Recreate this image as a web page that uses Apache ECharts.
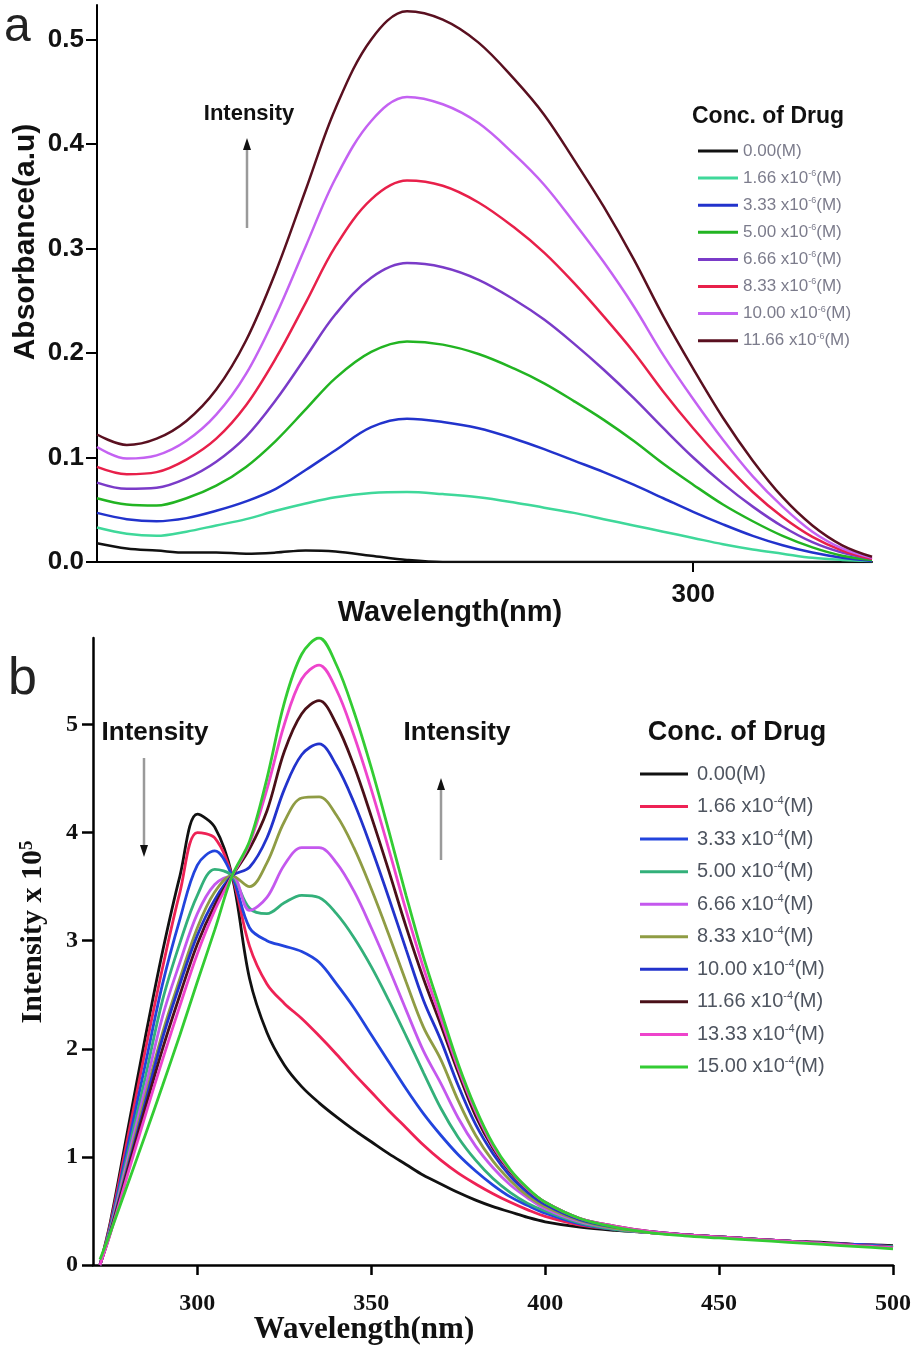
<!DOCTYPE html>
<html>
<head>
<meta charset="utf-8">
<script src="https://cdn.jsdelivr.net/npm/echarts@6/dist/echarts.min.js"></script>
<style>
    html, body { margin: 0; padding: 0; background: #fff; }
    #chart { width: 924px; height: 1350px; }
</style>
</head>
<body>
<div id="chart"></div>
<script>
// ---- panel a : UV absorbance ----
var waveA = [200, 205, 210, 215, 220, 225, 230, 235, 240, 246, 252, 258, 264, 270,
    275, 280, 285, 290, 295, 300, 305, 310, 315, 320, 325, 330];
var concA = ['0.00', '1.66', '3.33', '5.00', '6.66', '8.33', '10.00', '11.66'];
var colorsA = ['#111111', '#3fd89a', '#2233cc', '#22b422', '#7a3bc8', '#e8204a', '#c462f2', '#5a1020'];
var absA0 = [0.018, 0.013, 0.011, 0.009, 0.009, 0.008, 0.009, 0.011, 0.010, 0.006, 0.002, 0, 0, 0,
    0, 0, 0, 0, 0, 0, 0, 0, 0, 0, 0, 0];
var absA1 = [0.033, 0.027, 0.025, 0.029, 0.035, 0.041, 0.049, 0.056, 0.062, 0.066, 0.067, 0.065, 0.062, 0.057,
    0.052, 0.047, 0.041, 0.035, 0.029, 0.023, 0.017, 0.012, 0.008, 0.004, 0.002, 0.001];
var absA2 = [0.047, 0.041, 0.039, 0.042, 0.049, 0.058, 0.070, 0.088, 0.107, 0.129, 0.137, 0.134, 0.128, 0.118,
    0.108, 0.097, 0.086, 0.074, 0.061, 0.048, 0.036, 0.025, 0.016, 0.009, 0.004, 0.001];
var absA3 = [0.061, 0.055, 0.054, 0.061, 0.073, 0.091, 0.116, 0.146, 0.176, 0.201, 0.211, 0.208, 0.199, 0.185,
    0.171, 0.154, 0.136, 0.116, 0.094, 0.074, 0.055, 0.039, 0.025, 0.014, 0.006, 0.002];
var absA4 = [0.076, 0.070, 0.071, 0.080, 0.096, 0.120, 0.155, 0.196, 0.237, 0.272, 0.286, 0.282, 0.270, 0.251,
    0.232, 0.209, 0.184, 0.157, 0.128, 0.100, 0.075, 0.053, 0.034, 0.019, 0.009, 0.003];
var absA5 = [0.091, 0.084, 0.086, 0.098, 0.118, 0.150, 0.195, 0.248, 0.302, 0.347, 0.365, 0.360, 0.344, 0.320,
    0.296, 0.267, 0.235, 0.201, 0.163, 0.128, 0.096, 0.067, 0.043, 0.024, 0.011, 0.003];
var absA6 = [0.110, 0.099, 0.102, 0.116, 0.141, 0.180, 0.236, 0.302, 0.367, 0.422, 0.445, 0.438, 0.420, 0.390,
    0.361, 0.325, 0.287, 0.245, 0.198, 0.156, 0.117, 0.082, 0.053, 0.029, 0.013, 0.004];
var absA7 = [0.122, 0.112, 0.118, 0.135, 0.165, 0.212, 0.278, 0.356, 0.434, 0.500, 0.527, 0.519, 0.497, 0.462,
    0.428, 0.385, 0.340, 0.290, 0.235, 0.185, 0.138, 0.097, 0.062, 0.035, 0.016, 0.005];
var seriesA = [absA0, absA1, absA2, absA3, absA4, absA5, absA6, absA7];
var ticksAY = [0, 0.1, 0.2, 0.3, 0.4, 0.5];
var ticksAX = [300];

// ---- panel b : fluorescence ----
var waveB = [272, 275, 280, 285, 290, 295, 300, 305, 310, 315, 320, 325, 330, 335, 340, 345, 350, 355, 360,
    365, 370, 375, 380, 385, 390, 395, 400, 410, 420, 430, 440, 450, 460, 470, 480, 490, 500];
var concB = ['0.00', '1.66', '3.33', '5.00', '6.66', '8.33', '10.00', '11.66', '13.33', '15.00'];
var colorsB = ['#111111', '#ee2255', '#2244dd', '#33b07a', '#c458ee', '#8f9c44', '#2233cc', '#4a1018', '#ee44cc', '#33cc33'];
var intB0 = [0, 0.4, 1.25, 2.1, 2.9, 3.6, 4.17, 4.05, 3.6, 2.65, 2.15, 1.85, 1.65, 1.5, 1.37, 1.25, 1.14, 1.03, 0.93,
    0.83, 0.75, 0.67, 0.6, 0.54, 0.49, 0.44, 0.4, 0.35, 0.32, 0.3, 0.28, 0.26, 0.24, 0.22, 0.21, 0.19, 0.18];
var intB1 = [0, 0.38, 1.18, 1.98, 2.75, 3.45, 4.0, 3.95, 3.6, 2.95, 2.6, 2.42, 2.28, 2.12, 1.95, 1.77, 1.6, 1.43, 1.27,
    1.11, 0.97, 0.85, 0.75, 0.66, 0.58, 0.51, 0.45, 0.37, 0.33, 0.3, 0.28, 0.26, 0.24, 0.22, 0.2, 0.19, 0.17];
var intB2 = [0, 0.36, 1.1, 1.85, 2.6, 3.2, 3.7, 3.83, 3.6, 3.12, 3.0, 2.95, 2.9, 2.8, 2.6, 2.38, 2.13, 1.88, 1.63,
    1.4, 1.2, 1.02, 0.87, 0.74, 0.63, 0.55, 0.48, 0.38, 0.33, 0.3, 0.28, 0.26, 0.24, 0.22, 0.2, 0.19, 0.17];
var intB3 = [0, 0.34, 1.03, 1.73, 2.45, 2.98, 3.42, 3.66, 3.6, 3.3, 3.25, 3.35, 3.42, 3.4, 3.25, 3.03, 2.76, 2.45, 2.12,
    1.78, 1.45, 1.18, 0.97, 0.8, 0.67, 0.57, 0.5, 0.39, 0.33, 0.3, 0.28, 0.26, 0.24, 0.22, 0.2, 0.18, 0.17];
var intB4 = [0, 0.33, 0.98, 1.63, 2.3, 2.8, 3.25, 3.52, 3.6, 3.28, 3.4, 3.7, 3.86, 3.86, 3.72, 3.46, 3.12, 2.75, 2.36,
    1.98, 1.68, 1.36, 1.1, 0.9, 0.74, 0.62, 0.52, 0.4, 0.34, 0.3, 0.28, 0.26, 0.24, 0.22, 0.2, 0.18, 0.16];
var intB5 = [0, 0.32, 0.93, 1.55, 2.15, 2.65, 3.12, 3.45, 3.6, 3.5, 3.72, 4.1, 4.32, 4.33, 4.16, 3.86, 3.48, 3.06, 2.62,
    2.2, 1.9, 1.52, 1.2, 0.96, 0.78, 0.64, 0.54, 0.41, 0.34, 0.3, 0.28, 0.26, 0.24, 0.22, 0.2, 0.18, 0.16];
var intB6 = [0, 0.31, 0.9, 1.5, 2.1, 2.6, 3.05, 3.38, 3.6, 3.68, 3.95, 4.4, 4.72, 4.82, 4.62, 4.28, 3.86, 3.4, 2.92,
    2.45, 2.08, 1.66, 1.3, 1.03, 0.82, 0.67, 0.56, 0.42, 0.35, 0.31, 0.28, 0.26, 0.24, 0.22, 0.2, 0.18, 0.16];
var intB7 = [0, 0.3, 0.88, 1.45, 2.0, 2.5, 2.97, 3.33, 3.6, 3.85, 4.2, 4.75, 5.1, 5.22, 5.0, 4.62, 4.15, 3.65, 3.13,
    2.65, 2.22, 1.78, 1.38, 1.08, 0.86, 0.7, 0.58, 0.43, 0.36, 0.31, 0.28, 0.26, 0.24, 0.22, 0.2, 0.18, 0.16];
var intB8 = [0, 0.29, 0.84, 1.38, 1.9, 2.4, 2.88, 3.28, 3.6, 3.9, 4.4, 5.0, 5.42, 5.55, 5.32, 4.9, 4.4, 3.85, 3.28,
    2.75, 2.28, 1.82, 1.42, 1.1, 0.87, 0.7, 0.58, 0.43, 0.36, 0.31, 0.28, 0.26, 0.24, 0.22, 0.2, 0.18, 0.16];
var intB9 = [0.05, 0.3, 0.75, 1.2, 1.66, 2.13, 2.62, 3.1, 3.6, 3.92, 4.5, 5.2, 5.65, 5.8, 5.55, 5.12, 4.6, 4.02, 3.42,
    2.85, 2.35, 1.86, 1.45, 1.12, 0.88, 0.71, 0.58, 0.43, 0.35, 0.3, 0.27, 0.25, 0.23, 0.21, 0.19, 0.17, 0.15];
var seriesB = [intB0, intB1, intB2, intB3, intB4, intB5, intB6, intB7, intB8, intB9];
var ticksBY = [0, 1, 2, 3, 4, 5];
var ticksBX = [300, 350, 400, 450, 500];

(function () {
    var chart = echarts.init(document.getElementById('chart'));
    var SANS = 'Liberation Sans, Arial, sans-serif';
    var SERIF = 'Liberation Serif, Times New Roman, serif';

    function legendName(c, exp) {
        return c === '0.00' ? '0.00(M)' : c + ' x10^' + exp + '(M)';
    }
    var namesA = concA.map(function (c) { return legendName(c, '-6'); });
    var namesB = concB.map(function (c) { return legendName(c, '-4'); });

    // superscript in legend labels
    function supFormat(name) {
        return name.replace(/\^(-\d)/, '{s|$1}');
    }

    function makeSeries(names, xs, data, colors, idx, width) {
        return data.map(function (ys, i) {
            return {
                name: names[i],
                type: 'line',
                xAxisIndex: idx,
                yAxisIndex: idx,
                smooth: 0.35,
                showSymbol: false,
                silent: true,
                color: colors[i],
                lineStyle: { color: colors[i], width: width },
                data: xs.map(function (x, k) { return [x, ys[k]]; })
            };
        });
    }

    function arrow(x, y1, y2, up) {
        var tipY = up ? y2 - 12 : y2 + 12;
        return [
            {
                type: 'line',
                shape: { x1: x, y1: y1, x2: x, y2: y2 },
                style: { stroke: '#9a9a9a', lineWidth: 2.5 }
            },
            {
                type: 'polygon',
                shape: { points: [[x, tipY], [x - 4, y2], [x + 4, y2]] },
                style: { fill: '#111' }
            }
        ];
    }

    function label(text, x, y, font, align, extra) {
        var el = {
            type: 'text', x: x, y: y,
            style: {
                text: text, font: font, fill: '#111',
                textAlign: align || 'center', textVerticalAlign: 'middle',
                align: align || 'center', verticalAlign: 'middle'
            }
        };
        if (extra) {
            for (var k in extra) { el[k] = extra[k]; }
        }
        return el;
    }

    var option = {
        backgroundColor: '#fff',
        animation: false,

        grid: [
            { left: 97, right: 52, top: 5, bottom: 788 },
            { left: 93, right: 31, top: 638, bottom: 85 }
        ],

        xAxis: [
            {
                gridIndex: 0,
                type: 'value',
                min: 200,
                max: 330,
                axisLine: { lineStyle: { color: '#000', width: 2 } },
                axisTick: { customValues: ticksAX, length: 10, lineStyle: { color: '#000', width: 2 } },
                axisLabel: {
                    customValues: ticksAX, margin: 20,
                    fontFamily: SANS, fontWeight: 'bold', fontSize: 26, color: '#111'
                },
                splitLine: { show: false }
            },
            {
                gridIndex: 1,
                type: 'value',
                min: 270,
                max: 500,
                axisLine: { lineStyle: { color: '#000', width: 2.5 } },
                axisTick: { customValues: ticksBX, length: 10, lineStyle: { color: '#000', width: 2.5 } },
                axisLabel: {
                    customValues: ticksBX, margin: 27,
                    fontFamily: SERIF, fontWeight: 'bold', fontSize: 24, color: '#111'
                },
                splitLine: { show: false }
            }
        ],

        yAxis: [
            {
                gridIndex: 0,
                type: 'value',
                min: 0,
                max: 0.533,
                axisLine: { show: true, lineStyle: { color: '#000', width: 2 } },
                axisTick: { show: true, customValues: ticksAY, length: 11, lineStyle: { color: '#000', width: 2 } },
                axisLabel: {
                    customValues: ticksAY, margin: 13,
                    fontFamily: SANS, fontWeight: 'bold', fontSize: 26, color: '#111',
                    formatter: function (v) { return v.toFixed(1); }
                },
                splitLine: { show: false }
            },
            {
                gridIndex: 1,
                type: 'value',
                min: 0,
                max: 5.8,
                axisLine: { show: true, lineStyle: { color: '#000', width: 2.5 } },
                axisTick: { show: true, customValues: ticksBY, length: 11, lineStyle: { color: '#000', width: 2.5 } },
                axisLabel: {
                    customValues: ticksBY, margin: 15,
                    fontFamily: SERIF, fontWeight: 'bold', fontSize: 24, color: '#111'
                },
                splitLine: { show: false }
            }
        ],

        legend: [
            {
                orient: 'vertical',
                left: 693,
                top: 137,
                icon: 'rect',
                itemWidth: 40,
                itemHeight: 3,
                itemGap: 9.1,
                selectedMode: false,
                data: namesA,
                formatter: supFormat,
                textStyle: {
                    fontFamily: SANS, fontSize: 17, color: '#7c7c8c', lineHeight: 18,
                    rich: { s: { fontFamily: SANS, fontSize: 9, color: '#7c7c8c', lineHeight: 9, verticalAlign: 'top' } }
                }
            },
            {
                orient: 'vertical',
                left: 635,
                top: 758,
                icon: 'rect',
                itemWidth: 48,
                itemHeight: 3,
                itemGap: 10.55,
                selectedMode: false,
                data: namesB,
                formatter: supFormat,
                textStyle: {
                    fontFamily: SANS, fontSize: 20, color: '#4f5560', lineHeight: 22, padding: [0, 0, 0, 4],
                    rich: { s: { fontFamily: SANS, fontSize: 11, color: '#4f5560', lineHeight: 11, verticalAlign: 'top' } }
                }
            }
        ],

        graphic: [
            {
                type: 'text', x: 4, y: 52,
                style: { text: 'a', font: '48px ' + SANS, fill: '#222', verticalAlign: 'bottom', textVerticalAlign: 'bottom' }
            },
            {
                type: 'text', x: 8, y: 706,
                style: { text: 'b', font: '52px ' + SANS, fill: '#222', verticalAlign: 'bottom', textVerticalAlign: 'bottom' }
            },
            label('Absorbance(a.u)', 26, 242, 'bold 30px ' + SANS, 'center', { rotation: Math.PI / 2 }),
            label('Wavelength(nm)', 450, 613, 'bold 29px ' + SANS),
            label('Intensity', 249, 114, 'bold 22px ' + SANS),
            label('Conc. of Drug', 692, 117, 'bold 23px ' + SANS, 'left'),
            label('Intensity', 155, 733, 'bold 26px ' + SANS),
            label('Intensity', 457, 733, 'bold 26px ' + SANS),
            label('Conc. of Drug', 737, 733, 'bold 27px ' + SANS),
            label('Wavelength(nm)', 364, 1330, 'bold 31px ' + SERIF),
            {
                type: 'text', x: 33, y: 932, rotation: Math.PI / 2,
                style: {
                    text: 'Intensity x 10{s|5}', font: 'bold 30px ' + SERIF, fill: '#111',
                    textAlign: 'center', textVerticalAlign: 'middle', align: 'center', verticalAlign: 'middle',
                    rich: { s: { font: 'bold 19px ' + SERIF, fill: '#111', lineHeight: 16, verticalAlign: 'top' } }
                }
            }
        ].concat(arrow(247, 228, 150, true))
         .concat(arrow(144, 758, 845, false))
         .concat(arrow(441, 860, 790, true)),

        series: makeSeries(namesA, waveA, seriesA, colorsA, 0, 2.5)
            .concat(makeSeries(namesB, waveB, seriesB, colorsB, 1, 2.8))
    };

    chart.setOption(option);
})();
</script>
</body>
</html>
